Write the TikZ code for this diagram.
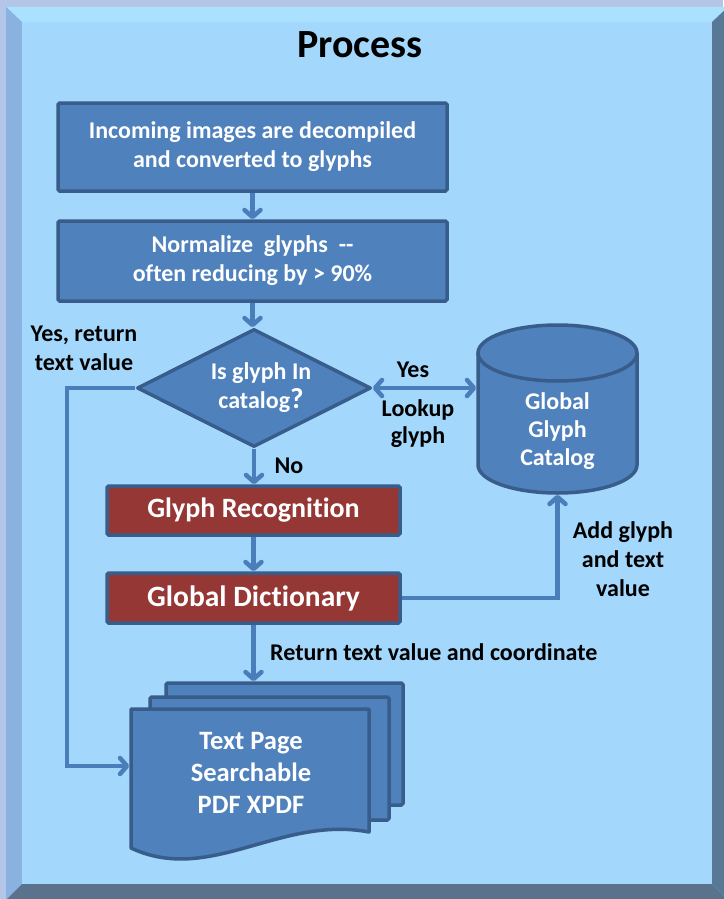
\documentclass[tikz,border=0pt]{standalone}
\usepackage{fontspec}
\setmainfont{Carlito}[Ligatures=NoCommon]
\usetikzlibrary{arrows.meta,shapes.geometric}
\definecolor{outerbg}{RGB}{180,198,231}
\definecolor{face}{RGB}{163,215,252}
\definecolor{bevtop}{RGB}{170,225,255}
\definecolor{bevleft}{RGB}{138,178,224}
\definecolor{bevright}{RGB}{88,120,152}
\definecolor{bevbot}{RGB}{90,114,140}
\definecolor{boxblue}{RGB}{79,129,189}
\definecolor{boxedge}{RGB}{56,93,138}
\definecolor{boxred}{RGB}{149,55,53}
\definecolor{arrowblue}{RGB}{74,126,187}
\begin{document}
\begin{tikzpicture}[x=1pt,y=-1pt,
  mytip/.tip={Straight Barb[length=7pt,width=16pt,line cap=round,line join=round]},
  bluebox/.style={draw=boxedge, fill=boxblue, line width=3.5pt, rounded corners=1.5pt, text=white, font=\fontsize{24}{29}\selectfont\bfseries, align=center, inner sep=0pt},
  redbox/.style={bluebox, fill=boxred},
  shapestyle/.style={draw=boxedge, fill=boxblue, line width=3.5pt, line join=round},
  lbl/.style={text=black, font=\fontsize{24}{29}\selectfont\bfseries, align=center, inner sep=0pt},
  wlbl/.style={lbl, text=white},
  conn/.style={draw=arrowblue, line width=4.5pt, -mytip},
  conn2/.style={draw=arrowblue, line width=4.5pt, mytip-mytip},
  anchorbox/.style={inner sep=0pt, outer sep=1.75pt},
]
\useasboundingbox (0,0) rectangle (723,899);
% frame
\fill[outerbg] (0,0) rectangle (723,899);
\fill[bevtop] (6,7) -- (728,7) -- (712,22) -- (22,22) -- cycle;
\fill[bevleft] (6,7) -- (22,22) -- (22,884) -- (6,900) -- cycle;
\fill[bevright] (728,7) -- (728,900) -- (712,884) -- (712,22) -- cycle;
\fill[bevbot] (6,900) -- (22,884) -- (712,884) -- (728,900) -- cycle;
\fill[face] (22,22) rectangle (712,884);

\node[lbl, font=\fontsize{40}{48}\selectfont\bfseries] (title) at (360,45) {Process};

\node[bluebox, minimum width=389pt, minimum height=88pt] (b1) at (252.5,147) {Incoming images are decompiled\\and converted to glyphs};
\node[bluebox, minimum width=389pt, minimum height=80pt] (b2) at (252.5,261) {Normalize\ \ glyphs\ \ -{}-\\often reducing by > 90\%};

\node[diamond, shapestyle, minimum width=234pt, minimum height=118pt, inner sep=0pt] (dec) at (254,388) {};
\node[wlbl] (dect) at (261,388) {Is glyph In\\catalog{\fontsize{29}{29}\selectfont ?}};

\node[redbox, minimum width=293pt, minimum height=49pt, font=\fontsize{28}{32}\selectfont\bfseries] (gr) at (253.5,510.5) {Glyph Recognition};
\node[redbox, minimum width=293pt, minimum height=50pt, font=\fontsize{29.5}{34}\selectfont\bfseries] (gd) at (253.5,598) {Global Dictionary};

% cylinder
\node[anchorbox, minimum width=159pt, minimum height=168pt] (cat) at (557.5,409) {};
\path[shapestyle] (478,353) -- (478,465) .. controls (478,480.5) and (513.6,493) .. (557.5,493) .. controls (601.4,493) and (637,480.5) .. (637,465) -- (637,353) -- cycle;
\path[shapestyle] (557.5,353) ellipse [x radius=79.5, y radius=28];
\node[wlbl, font=\fontsize{24}{28}\selectfont\bfseries] (catt) at (557.5,431) {Global\\Glyph\\Catalog};

% documents
\path[shapestyle, rounded corners=1.5pt] (166,683) rectangle (403,805);
\path[shapestyle, rounded corners=1.5pt] (150,697) rectangle (389,820);
\path[shapestyle] (131,709) -- (369,709) -- (369,832) .. controls (280,815) and (210,885) .. (131,848) -- cycle;
\node[anchorbox, minimum width=237pt, minimum height=122pt] (docback) at (284.5,744) {};
\node[anchorbox, minimum width=238pt, minimum height=114pt] (doc) at (250,766) {};
\node[wlbl, font=\fontsize{26.5}{32}\selectfont\bfseries] (doct) at (251,773) {Text Page\\Searchable\\PDF XPDF};

% connectors
\draw[conn] (b1) -- (b2);
\draw[conn] (b2.south) -- (b2.south |- dec.north);
\draw[conn] (dec.south) -- (dec.south |- gr.north);
\draw[conn] (gr) -- (gd);
\draw[conn] (gd.south) -- (gd.south |- docback.north);
\draw[conn2] (dec.east) -- (dec.east -| cat.west);
\coordinate (lx) at (67,388);
\draw[conn] (dec.west) -- (lx) |- (doc.west);
\draw[conn] (gd.east) -| (cat.south);

% labels
\node[lbl] (l1) at (84,348) {Yes, return\\text value};
\node[lbl] (l2) at (413,370) {Yes};
\node[lbl, font=\fontsize{24}{27}\selectfont\bfseries] (l3) at (418,424) {Lookup\\glyph};
\node[lbl] (l4) at (289,466) {No};
\node[lbl] (l5) at (623,559) {Add glyph\\and text\\value};
\node[lbl, anchor=west] (l6) at (270,652) {Return text value and coordinate};
\end{tikzpicture}
\end{document}
